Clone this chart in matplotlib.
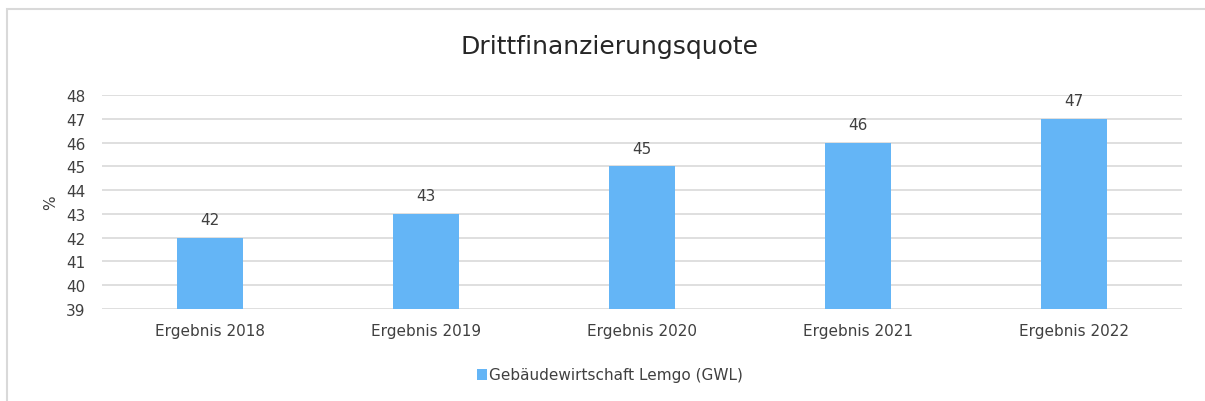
import matplotlib
matplotlib.use("Agg")
import matplotlib.pyplot as plt
from matplotlib.patches import Rectangle

categories = ["Ergebnis 2018", "Ergebnis 2019", "Ergebnis 2020", "Ergebnis 2021", "Ergebnis 2022"]
values = [42, 43, 45, 46, 47]
yticks = [39, 40, 41, 42, 43, 44, 45, 46, 47, 48]
series_name = "Gebäudewirtschaft Lemgo (GWL)"

BAR = "#64B5F6"
GRID = "#d9d9d9"
TXT = "#404040"

plt.rcParams["font.family"] = ["DejaVu Sans"]
fig = plt.figure(figsize=(12.05, 4.02), dpi=100)
fig.patches.append(Rectangle((7 / 1205, -0.1), 1.2, 1 - 10 / 402 + 0.1, transform=fig.transFigure,
                             fill=False, edgecolor="#d9d9d9", lw=1.5))

ax = fig.add_axes([102 / 1205, 1 - 310 / 402, 1080 / 1205, 214 / 402])
x = range(len(categories))
ax.bar(x, [v - 39 for v in values], bottom=39, width=0.31, color=BAR, zorder=3, label=series_name)
for xi, v in zip(x, values):
    ax.text(xi, v + 0.45, f"{v}", ha="center", va="bottom", fontsize=11, color=TXT)

ax.set_xlim(-0.5, len(categories) - 0.5)
ax.set_ylim(39, 48)
ax.set_yticks(yticks)
ax.set_xticks(list(x))
ax.set_xticklabels(categories)
ax.tick_params(axis="both", length=0, labelsize=11, labelcolor=TXT)
ax.tick_params(axis="x", pad=10)
ax.tick_params(axis="y", pad=12)
ax.grid(axis="y", color=GRID, lw=1.2, zorder=0)
for s in ax.spines.values():
    s.set_visible(False)
ax.set_ylabel("%", fontsize=11, color=TXT)
ax.yaxis.set_label_coords(-44 / 1080, 0.5)

fig.text(0.506, 1 - 47 / 402, "Drittfinanzierungsquote", ha="center", va="center", fontsize=18, color="#262626")
fig.legend(loc="center", bbox_to_anchor=(0.506, 1 - 376 / 402), frameon=False, fontsize=11,
           handlelength=0.7, handleheight=0.7, handletextpad=0.1, labelcolor=TXT)

fig.savefig("out.png", dpi=100)
